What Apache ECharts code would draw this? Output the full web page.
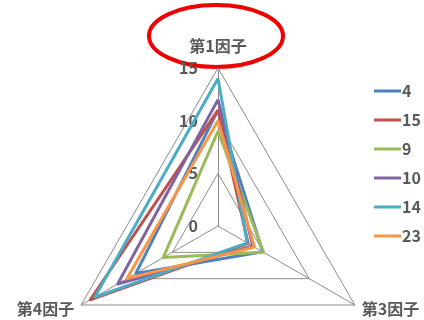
<!DOCTYPE html>
<html>
<head>
<meta charset="utf-8">
<script src="https://cdn.jsdelivr.net/npm/echarts@6/dist/echarts.min.js"></script>
<style>
html,body{margin:0;padding:0;background:#fff;}
#chart{width:424px;height:320px;}
</style>
</head>
<body>
<div id="chart"></div>
<script>
"use strict";

// indicator order as ECharts lays them out: top, bottom-left, bottom-right
const factors = ["第1因子", "第4因子", "第3因子"];
const seriesNames = ["4", "15", "9", "10", "14", "23"];
const colors = ["#4F81BD", "#C0504D", "#9BBB59", "#8064A2", "#4BACC6", "#F79646"];
const values = [
	[11, 9, 4.9],
	[11, 14, 3.3],
	[9, 6, 5],
	[12, 11, 3.8],
	[14, 13.5, 3.2],
	[10, 10, 4]
];
const ticks = [0, 5, 10, 15];

const gray = "#595959";
const font = "'Noto Sans CJK JP', 'Noto Sans', sans-serif";
const myChart = echarts.init(document.getElementById("chart"));

let option = {
	animation: false,
	color: colors,
	legend: {
		orient: "vertical",
		left: 369,
		top: 78,
		icon: "rect",
		itemWidth: 27,
		itemHeight: 3,
		itemGap: 13,
		textStyle: {color: gray, fontSize: 16, fontWeight: "bold", fontFamily: font, padding: [0, 0, 0, -4]},
		data: seriesNames
	},
	radar: {
		center: [218, 226],
		radius: 158,
		startAngle: 90,
		splitNumber: 3,
		nameGap: 8,
		axisName: {
			color: gray, fontSize: 16, fontWeight: "bold", fontFamily: font,
			formatter: (name) => name === factors[0] ? "{top|" + name + "}" : name,
			rich: {top: {color: gray, fontSize: 16, fontWeight: "bold", fontFamily: font, padding: [0, 0, 6, 0]}}
		},
		axisLine: {lineStyle: {color: "#8c8c8c", width: 1}},
		splitLine: {lineStyle: {color: "#8c8c8c", width: 1}},
		splitArea: {show: false},
		indicator: factors.map(n => ({name: n, min: ticks[0], max: ticks[ticks.length - 1]}))
	},
	// value labels on the top spoke
	grid: {left: 218, top: 68, height: 158, width: 1},
	xAxis: {type: "value", show: false},
	yAxis: {
		type: "value", min: ticks[0], max: ticks[ticks.length - 1], interval: 5,
		axisLine: {show: false}, axisTick: {show: false}, splitLine: {show: false},
		axisLabel: {margin: 20, color: gray, fontSize: 16, fontWeight: "bold", fontFamily: font}
	},
	graphic: [{
		type: "ellipse",
		shape: {cx: 216, cy: 36, rx: 67, ry: 31},
		style: {fill: "none", stroke: "#EE0000", lineWidth: 4}
	}],
	series: [{
		type: "radar",
		symbol: "none",
		lineStyle: {width: 3},
		data: seriesNames.map((n, i) => ({name: n, value: values[i], lineStyle: {color: colors[i], width: 3}, itemStyle: {color: colors[i]}}))
	}]
};

myChart.setOption(option);
</script>
</body>
</html>
